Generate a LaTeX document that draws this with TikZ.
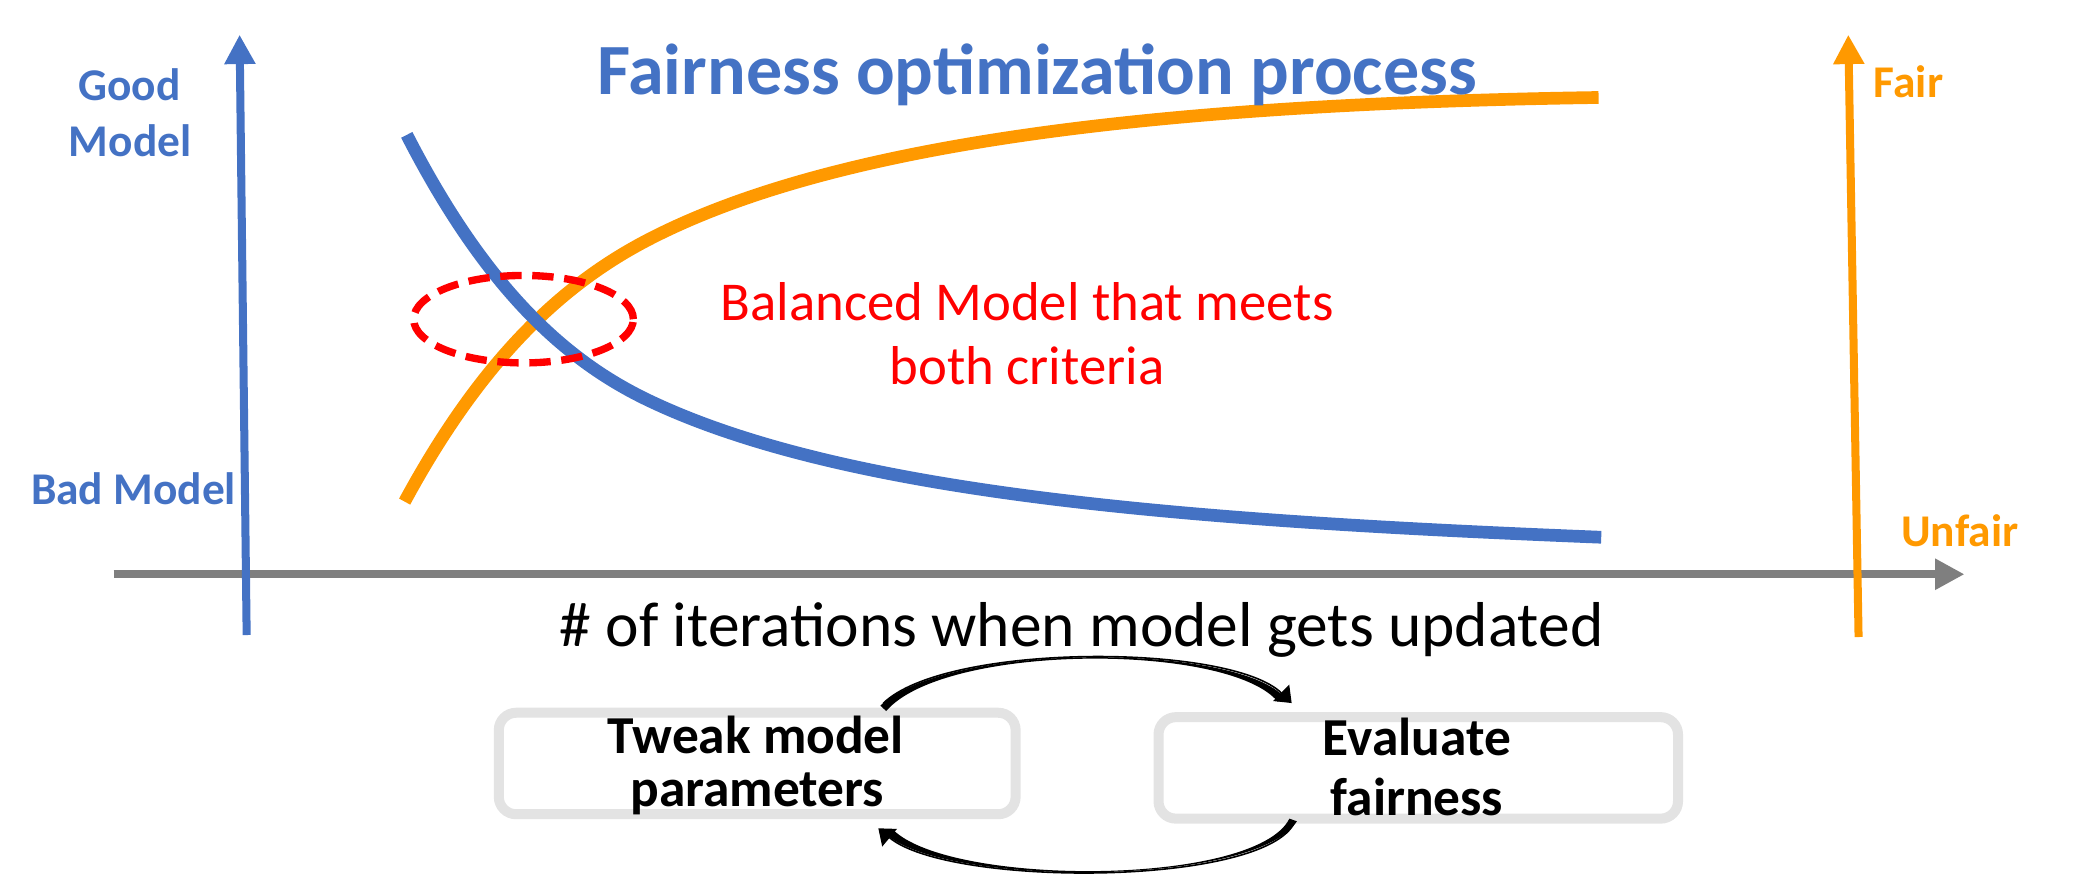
\documentclass[tikz,border=0pt]{standalone}
\usepackage{fontspec}
\setmainfont{Carlito}
\usetikzlibrary{arrows.meta,shapes.geometric}
\definecolor{axisblue}{HTML}{4472C4}
\definecolor{axisorange}{HTML}{FF9900}
\definecolor{axisgray}{HTML}{7F7F7F}
\definecolor{boxgray}{HTML}{E3E3E3}
\definecolor{markred}{HTML}{FF0000}

\begin{document}
\begin{tikzpicture}[x=1pt,y=-1pt,
  axisline/.style={line width=6pt, -{Triangle[length=22pt,width=22pt]}},
  curveline/.style={line width=9.5pt, line cap=butt},
  sidelabel/.style={inner sep=0pt, anchor=base, font=\fontsize{34}{40}\selectfont\bfseries},
  titletext/.style={inner sep=0pt, anchor=base, text=axisblue, font=\fontsize{54}{60}\selectfont\bfseries},
  notetext/.style={inner sep=0pt, anchor=base, text=markred, font=\fontsize{41}{48}\selectfont},
  axistext/.style={inner sep=0pt, anchor=base, text=black, font=\fontsize{47.5}{54}\selectfont},
  procbox/.style={draw=boxgray, fill=white, line width=7.5pt, rounded corners=13pt,
    inner sep=0pt, minimum width=387pt, minimum height=76pt},
  boxtext/.style={inner sep=0pt, anchor=base, text=black, font=\fontsize{40}{44}\selectfont\bfseries},
  looparrow/.style={line width=1.2pt, -{Triangle[length=11pt,width=17pt]}},
  arrowbody/.style={fill=black},
  balanceoval/.style={ellipse, draw=markred, line width=5.5pt, dash pattern=on 16pt off 8pt,
    inner sep=0pt, minimum width=164.5pt, minimum height=65.5pt}
]
\useasboundingbox (0,0) rectangle (1568,655);

% horizontal iteration axis
\coordinate (xstart) at (85,430);
\coordinate (xend) at (1471,430);
\draw[axisline, axisgray] (xstart) -- (xend);

% vertical axes: model quality (left) and fairness (right)
\coordinate (qbottom) at (184.7,475.5);
\coordinate (qtop) at (179.4,26);
\draw[axisline, axisblue] (qbottom) -- (qtop);
\coordinate (fbottom) at (1391.7,477);
\coordinate (ftop) at (1384,26);
\draw[axisline, axisorange] (fbottom) -- (ftop);

% fairness curve (rising) and model quality curve (falling)
\draw[curveline, axisorange] (303,375.6) .. controls (363,264.6) and (425,210.9) .. (485,179.7)
  .. controls (635,101.7) and (897,77.5) .. (1197,73);
\draw[curveline, axisblue] (304.6,101) .. controls (364.6,218) and (425,270.7) .. (485,299.5)
  .. controls (635,371.5) and (899,390.3) .. (1199,402.3);

% balance point marker
\node[balanceoval] (balance) at (392,239) {};

% titles and labels
\node[titletext] (title) at (776.5,71) {Fairness optimization process};
\node[sidelabel, text=axisblue] (good1) at (97,75) {Good};
\node[sidelabel, text=axisblue] (good2) at (97.5,117) {Model};
\node[sidelabel, text=axisblue] (bad) at (100,378) {Bad Model};
\node[sidelabel, text=axisorange, anchor=base west] (fair) at (1403,73) {Fair};
\node[sidelabel, text=axisorange, anchor=base west] (unfair) at (1423.5,409) {Unfair};
\node[notetext] (note1) at (769,240) {Balanced Model that meets};
\node[notetext] (note2) at (769,288) {both criteria};
\node[axistext] (iters) at (810,484) {\# of iterations when model gets updated};

% iteration loop
\node[procbox] (tw) at (567,571.7) {};
\node[procbox, minimum width=389pt] (ev) at (1062,575) {};
\node[boxtext] (tw1) at (566,564) {Tweak model};
\node[boxtext] (tw2) at (567,604) {parameters};
\node[boxtext] (ev1) at (1061,566) {Evaluate};
\node[boxtext] (ev2) at (1061,611) {fairness};

% curved loop arrows: thin guide with head, plus a tapered body
\draw[looparrow] ([xshift=94.4pt,yshift=3.3pt]tw.north)
  .. controls (707.8,481.3) and (921,481.3) .. ([xshift=-94.8pt,yshift=6.8pt]ev.north);
\fill[arrowbody] (659.2,528.4) .. controls (707.8,481.3) and (921,481.3) .. (960.7,521)
  -- (956.9,525.6) .. controls (921,481.3) and (707.8,481.3) .. (663.6,532.4) -- cycle;

\draw[looparrow] ([xshift=-93.7pt,yshift=-1pt]ev.south)
  .. controls (940,664) and (710,664) .. ([xshift=90.7pt,yshift=-6.8pt]tw.south);
\fill[arrowbody] (971.1,615) .. controls (940,664) and (710,664) .. (664.6,625.6)
  -- (668.2,620.8) .. controls (710,664) and (940,664) .. (965.5,613) -- cycle;
\end{tikzpicture}
\end{document}
